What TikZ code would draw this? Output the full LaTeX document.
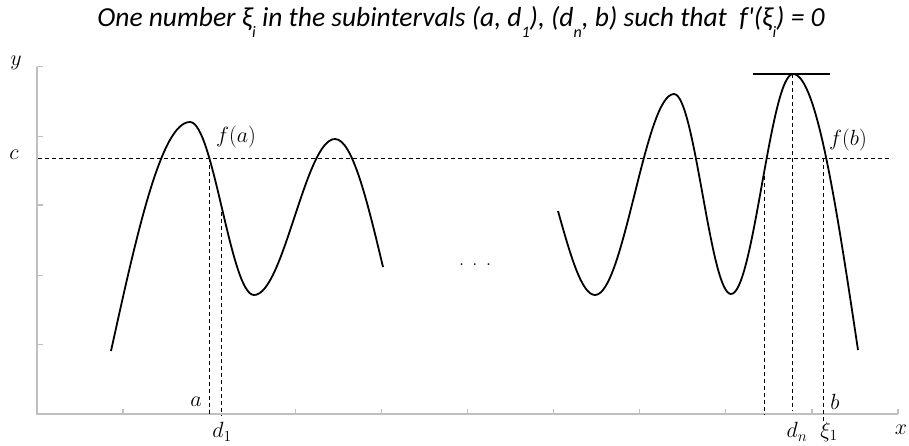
\documentclass[tikz,border=0pt]{standalone}
\usepackage{fontspec}
\usepackage{fix-cm}
\newfontfamily\titlefont{Carlito}
\begin{document}
\begin{tikzpicture}[x=1pt,y=-1pt,
  axis/.style={draw=axisgray,line width=1.3pt},
  curve/.style={draw=black,line width=1.8pt},
  guide/.style={draw=black,line width=0.9pt,dash pattern=on 4pt off 3pt},
  lab/.style={inner sep=0pt,font=\fontsize{22}{22}\selectfont},
  ttl/.style={inner sep=0pt,font=\titlefont\itshape\fontsize{27.5}{30}\selectfont}]
\definecolor{axisgray}{HTML}{C0C0C0}
\newcommand\tsub[1]{\raisebox{-0.4em}{\fontsize{16}{16}\selectfont #1}}
\useasboundingbox (0,0) rectangle (909,445);
% axes
\draw[axis] (37,66.7) -- (37,414) -- (898,414);
\foreach \yy in {66.7,136.7,205,275.7,344.3} \draw[axis] (37,\yy) -- (43,\yy);
\foreach \i in {1,...,10} \draw[axis] ({37+86.1*\i},414) -- ++(0,-5);
% level c
\draw[guide] (38,158) -- (892,158);
% curves
\draw[curve] (111,351) sin (190,122) cos (222,208.5) sin (254,295)
  cos (294.5,217) sin (335,139) cos (383,267);
\draw[curve] (558,211) sin (595,295) cos (634.5,194.5) sin (674,94)
  cos (702.5,194) sin (731,294) cos (762,184) sin (793,74) cos (858,350);
% tangent at the top
\draw[curve] (753,74) -- (830,74);
% vertical guides
\coordinate (pa) at (209,158);  \coordinate (qa) at (209,416);
\coordinate (pd) at (221.7,212); \coordinate (qd) at (221.7,416);
\coordinate (pl) at (764.3,176); \coordinate (ql) at (764.3,415);
\coordinate (pn) at (792.7,74);  \coordinate (qn) at (792.7,411);
\coordinate (pb) at (823.3,158); \coordinate (qb) at (823.3,421);
\draw[guide] (pa) -- (qa);
\draw[guide] (pd) -- (qd);
\draw[guide] (pl) -- (ql);
\draw[guide] (pn) -- (qn);
\draw[guide] (pb) -- (qb);
% labels
\node[lab] (ylab) at (16,63) {$y$};
\node[lab] (clab) at (14,155) {$c$};
\node[lab] (xlab) at (901,430) {$x$};
\node[lab] (alab) at (196,402) {$a$};
\node[lab] (blab) at (835,402) {$b$};
\node[lab] (d1lab) at (222,432) {$d_1$};
\node[lab] (dnlab) at (797,432) {$d_n$};
\node[lab] (xilab) at (829,432) {$\xi_1$};
\node[lab] (falab) at (236,137) {$f(a)$};
\node[lab] (fblab) at (848,140) {$f(b)$};
\node[lab] (dots) at (475,265) {.\hspace{8pt}.\hspace{8pt}.};
\node[ttl] (title) at (461,22) {One number ξ\tsub{i} in the subintervals (a, d\tsub{1}), (d\tsub{n}, b) such that \ f'(ξ\tsub{i}) = 0};
\end{tikzpicture}
\end{document}
